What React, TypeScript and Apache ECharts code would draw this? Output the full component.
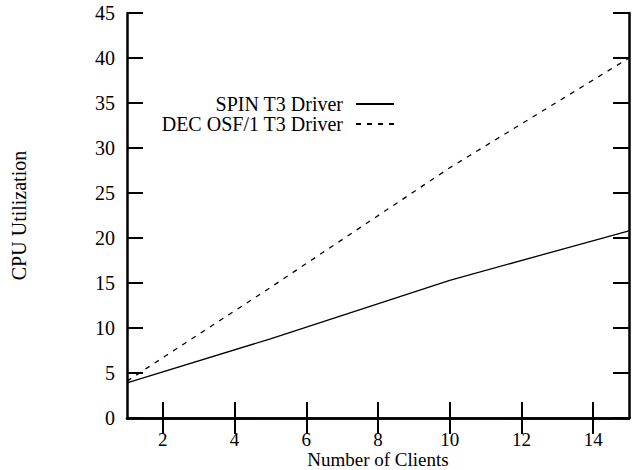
import React, { useEffect, useRef } from "react";
import * as echarts from "echarts";

const clients = [1, 5, 10, 15];
const spinUtil = [3.9, 8.8, 15.3, 20.8];
const decUtil = [4.1, 14.5, 27.8, 40.0];
const xTickValues = [2, 4, 6, 8, 10, 12, 14];
const seriesNames = ["SPIN T3 Driver", "DEC OSF/1 T3 Driver"];
const xTitle = "Number of Clients";
const yTitle = "CPU Utilization";

const FONT = "Liberation Serif";
const FS = 20;
const FS_X = 19;

export default function App() {
  const ref = useRef<HTMLDivElement>(null);
  useEffect(() => {
    if (!ref.current) return;
    const chart = echarts.init(ref.current, null, { renderer: "svg" });
    const axisLine = { show: true, lineStyle: { color: "#000", width: 2.5 } };
    const tick = { show: true, inside: true, length: 16, lineStyle: { color: "#000", width: 2 } };
    chart.setOption({
      animation: false,
      backgroundColor: "#fff",
      textStyle: { fontFamily: FONT, color: "#000" },
      grid: { left: 127, right: 7, top: 13, bottom: 52, containLabel: false, outerBoundsMode: "none" },
      legend: {
        orient: "vertical",
        align: "right",
        right: 236,
        top: 89,
        itemWidth: 38,
        itemHeight: 14,
        itemGap: 0,
        data: seriesNames,
        itemStyle: { opacity: 0 },
        textStyle: { fontFamily: FONT, fontSize: FS, color: "#000", lineHeight: 20, padding: [0, 8, 0, 0] },
      },
      xAxis: [
        {
          type: "value",
          min: 1,
          max: 15,
          position: "bottom",
          name: xTitle,
          nameLocation: "middle",
          nameGap: 32,
          nameMoveOverlap: false,
          nameTextStyle: { fontFamily: FONT, fontSize: FS_X, color: "#000" },
          axisLine,
          axisTick: { ...tick, customValues: xTickValues },
          axisLabel: {
            customValues: xTickValues,
            fontFamily: FONT,
            fontSize: FS_X,
            color: "#000",
            margin: 12,
          },
          splitLine: { show: false },
        },
        {
          type: "value",
          min: 1,
          max: 15,
          position: "top",
          axisLine,
          axisTick: { ...tick, customValues: xTickValues },
          axisLabel: { show: false },
          splitLine: { show: false },
        },
      ],
      yAxis: [
        {
          type: "value",
          min: 0,
          max: 45,
          interval: 5,
          position: "left",
          name: yTitle,
          nameLocation: "middle",
          nameGap: 98,
          nameMoveOverlap: false,
          nameTextStyle: { fontFamily: FONT, fontSize: FS, color: "#000" },
          axisLine,
          axisTick: tick,
          axisLabel: { fontFamily: FONT, fontSize: FS, color: "#000", margin: 12 },
          splitLine: { show: false },
        },
        {
          type: "value",
          min: 0,
          max: 45,
          interval: 5,
          position: "right",
          axisLine,
          axisTick: tick,
          axisLabel: { show: false },
          splitLine: { show: false },
        },
      ],
      series: [
        {
          name: seriesNames[0],
          type: "line",
          data: clients.map((c, i) => [c, spinUtil[i]]),
          showSymbol: false,
          symbol: "none",
          lineStyle: { color: "#000", width: 1.3, type: "solid" },
          itemStyle: { color: "#000" },
        },
        {
          name: seriesNames[1],
          type: "line",
          data: clients.map((c, i) => [c, decUtil[i]]),
          showSymbol: false,
          symbol: "none",
          lineStyle: { color: "#000", width: 1.3, type: [5, 6] },
          itemStyle: { color: "#000" },
        },
      ],
    });
    return () => chart.dispose();
  }, []);
  return (
    <div
      ref={ref}
      style={{ position: "fixed", left: 0, top: 0, width: 636, height: 470, background: "#fff" }}
    />
  );
}
